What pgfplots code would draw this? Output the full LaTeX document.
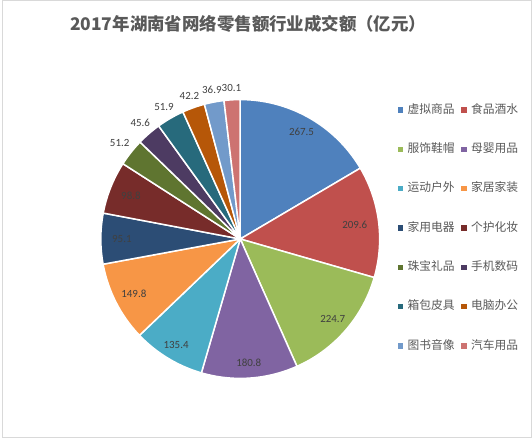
\documentclass[border=0pt]{standalone}
\usepackage{pgfplots}
\pgfplotsset{compat=1.18}
\usepackage{pgfplotstable}
\usepgfplotslibrary{polar}
\usepackage{fontspec}
\setmainfont{Carlito}
\newfontfamily\cjk{Noto Sans CJK SC}
\definecolor{slice0}{HTML}{4F81BD}
\definecolor{slice1}{HTML}{C0504D}
\definecolor{slice2}{HTML}{9BBB59}
\definecolor{slice3}{HTML}{8064A2}
\definecolor{slice4}{HTML}{4BACC6}
\definecolor{slice5}{HTML}{F79646}
\definecolor{slice6}{HTML}{2C4D75}
\definecolor{slice7}{HTML}{772C2A}
\definecolor{slice8}{HTML}{5F7530}
\definecolor{slice9}{HTML}{4D3B62}
\definecolor{slice10}{HTML}{276A7C}
\definecolor{slice11}{HTML}{B65708}
\definecolor{slice12}{HTML}{729ACA}
\definecolor{slice13}{HTML}{CD7371}
\definecolor{titlegray}{HTML}{595959}
\definecolor{labelgray}{HTML}{404040}
\definecolor{framegray}{HTML}{D9D9D9}

\pgfplotstableread{
name value
虚拟商品 267.5
食品酒水 209.6
服饰鞋帽 224.7
母婴用品 180.8
运动户外 135.4
家居家装 149.8
家用电器 95.1
个护化妆 98.8
珠宝礼品 51.2
手机数码 45.6
箱包皮具 51.9
电脑办公 42.2
图书音像 36.9
汽车用品 30.1
}\piedata
\pgfplotstablecreatecol[create col/expr accum={\pgfmathaccuma+\thisrow{value}}{0}]{cum}\piedata

\newcommand\labelfont{\fontsize{11bp}{13bp}\selectfont}

\begin{document}
\pgfplotstablegetelem{13}{cum}\of\piedata
\edef\total{\pgfplotsretval}
\begin{tikzpicture}
\useasboundingbox (0,0) rectangle (532bp,440bp);
\draw[framegray, line width=1bp] (0.5bp,0.5bp) rectangle (531.5bp,439.5bp);
\node[font=\cjk\bfseries\fontsize{17.5bp}{20bp}\selectfont, text=titlegray] at (247bp,416bp) {2017年湖南省网络零售额行业成交额（亿元）};
\begin{axis}[
  at={(239bp,200bp)}, anchor=center,
  scale only axis, width=280bp, height=280bp,
  xmin=-1, xmax=1, ymin=-1, ymax=1,
  hide axis, clip=false,
  legend columns=2,
  legend cell align=left,
  legend image code/.code={\fill[#1,draw=none] (0bp,-2.75bp) rectangle (5.5bp,2.75bp);},
  legend style={at={(1.064,0.984)}, anchor=north west, draw=none, fill=none,
    inner sep=0pt, row sep=28bp,
    font=\cjk\fontsize{11.8bp}{13bp}\selectfont, text=titlegray,
    nodes={inner sep=0pt, text height=9bp, text depth=2.5bp},
    /tikz/every odd column/.append style={column sep=4.5bp},
    /tikz/every even column/.append style={column sep=6.5bp}},
]
\pgfplotsforeachungrouped \i in {0,...,13}{%
  \pgfplotstablegetelem{\i}{value}\of\piedata \let\v\pgfplotsretval
  \pgfplotstablegetelem{\i}{cum}\of\piedata \let\c\pgfplotsretval
  \pgfplotstablegetelem{\i}{name}\of\piedata \let\n\pgfplotsretval
  \pgfmathsetmacro\aend{90-\c/\total*360}%
  \pgfmathsetmacro\astart{90-(\c-\v)/\total*360}%
  \edef\cmd{\noexpand\addplot[fill=slice\i, draw=white, line width=1.5bp, domain=\aend:\astart, samples=60, data cs=polar] ({x},{1}) -- (axis cs:0,0) -- cycle;
    \noexpand\addlegendentry{\n}}%
  \cmd
}
\pgfplotsforeachungrouped \i in {0,...,13}{%
  \pgfplotstablegetelem{\i}{value}\of\piedata \let\v\pgfplotsretval
  \pgfplotstablegetelem{\i}{cum}\of\piedata \let\c\pgfplotsretval
  \pgfmathsetmacro\aend{90-\c/\total*360}%
  \pgfmathsetmacro\astart{90-(\c-\v)/\total*360}%
  \pgfmathsetmacro\amid{(\astart+\aend)/2}%
  \pgfmathparse{\v<60 ? 1 : 0}%
  \ifnum\pgfmathresult=1
    \pgfmathsetmacro\rr{1.06}%
    \pgfmathtruncatemacro\anc{mod(\amid+720+180,360)}%
  \else
    \pgfmathsetmacro\rr{0.92}%
    \pgfmathtruncatemacro\anc{mod(\amid+720,360)}%
  \fi
  \pgfmathsetmacro\px{\rr*cos(\amid)}%
  \pgfmathsetmacro\py{\rr*sin(\amid)}%
  \edef\cmd{\noexpand\node[anchor=\anc, font=\noexpand\labelfont, text=labelgray, inner sep=0pt] at (axis cs:\px,\py) {\v};}%
  \cmd
}
\end{axis}
\end{tikzpicture}
\end{document}
